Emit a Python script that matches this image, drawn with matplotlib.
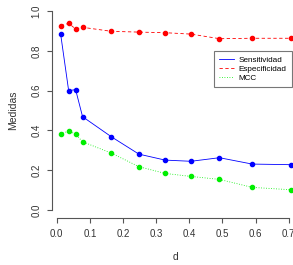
import matplotlib
matplotlib.use("Agg")
import matplotlib.pyplot as plt
from matplotlib.lines import Line2D

# values
d = [0.012, 0.036, 0.057, 0.078, 0.165, 0.248, 0.327, 0.405, 0.491, 0.590, 0.706]
sensitividad = [0.882, 0.600, 0.605, 0.469, 0.368, 0.281, 0.251, 0.245, 0.263, 0.231, 0.228]
especificidad = [0.926, 0.938, 0.910, 0.918, 0.898, 0.894, 0.891, 0.884, 0.861, 0.863, 0.863]
mcc = [0.382, 0.397, 0.382, 0.343, 0.286, 0.218, 0.184, 0.169, 0.154, 0.114, 0.102]

x_ticks = [0.0, 0.1, 0.2, 0.3, 0.4, 0.5, 0.6, 0.7]
y_ticks = [0.0, 0.2, 0.4, 0.6, 0.8, 1.0]

plt.rcParams["font.family"] = ["Liberation Sans", "DejaVu Sans"]

fig = plt.figure(figsize=(2.93, 2.65), dpi=100)
ax = fig.add_axes([0.1765, 0.176, 0.8235, 0.805])

ax.plot(d, sensitividad, color="#0000ff", lw=0.6, ls="-", marker="o", ms=3.0, clip_on=False)
ax.plot(d, especificidad, color="#ff0000", lw=0.6, ls=(0, (4, 3)), marker="o", ms=3.0, clip_on=False)
ax.plot(d, mcc, color="#00ee00", lw=0.6, ls=(0, (1, 2)), marker="o", ms=3.0, clip_on=False)

ax.set_xlim(-0.0151, 0.713)
ax.set_ylim(-0.0417, 1.03)

for side in ["top", "right"]:
    ax.spines[side].set_visible(False)
ax.spines["left"].set_bounds(0, 1)
ax.spines["bottom"].set_bounds(0, 0.7)
for side in ["left", "bottom"]:
    ax.spines[side].set_color("#555555")
    ax.spines[side].set_linewidth(0.8)

ax.set_xticks(x_ticks)
ax.set_xticklabels([f"{v:.1f}" for v in x_ticks])
ax.set_yticks(y_ticks)
ax.set_yticklabels([f"{v:.1f}" for v in y_ticks], rotation=90, va="center")
ax.tick_params(direction="out", length=3.6, width=0.8, color="#555555",
               labelsize=7, labelcolor="#333333", pad=4)

ax.set_xlabel("d", fontsize=7.5, color="#333333")
ax.set_ylabel("Medidas", fontsize=7.5, color="#333333")
ax.xaxis.set_label_coords(0.511, -0.158)
ax.yaxis.set_label_coords(-0.139, 0.508)

handles = [
    Line2D([], [], color="#0000ff", lw=0.6, ls="-"),
    Line2D([], [], color="#ff0000", lw=0.6, ls=(0, (4, 3))),
    Line2D([], [], color="#00ee00", lw=0.6, ls=(0, (1, 2))),
]
leg = fig.legend(handles, ["Sensitividad", "Especificidad", "MCC"],
                 loc="upper right", bbox_to_anchor=(291.5 / 293, 1 - 51 / 265),
                 bbox_transform=fig.transFigure, fontsize=5.9, frameon=True,
                 fancybox=False, edgecolor="#555555", handlelength=1.8,
                 handletextpad=0.6, borderpad=0.6, labelspacing=0.15,
                 borderaxespad=0)
leg.get_frame().set_linewidth(0.8)

fig.savefig("out.png", dpi=100)
